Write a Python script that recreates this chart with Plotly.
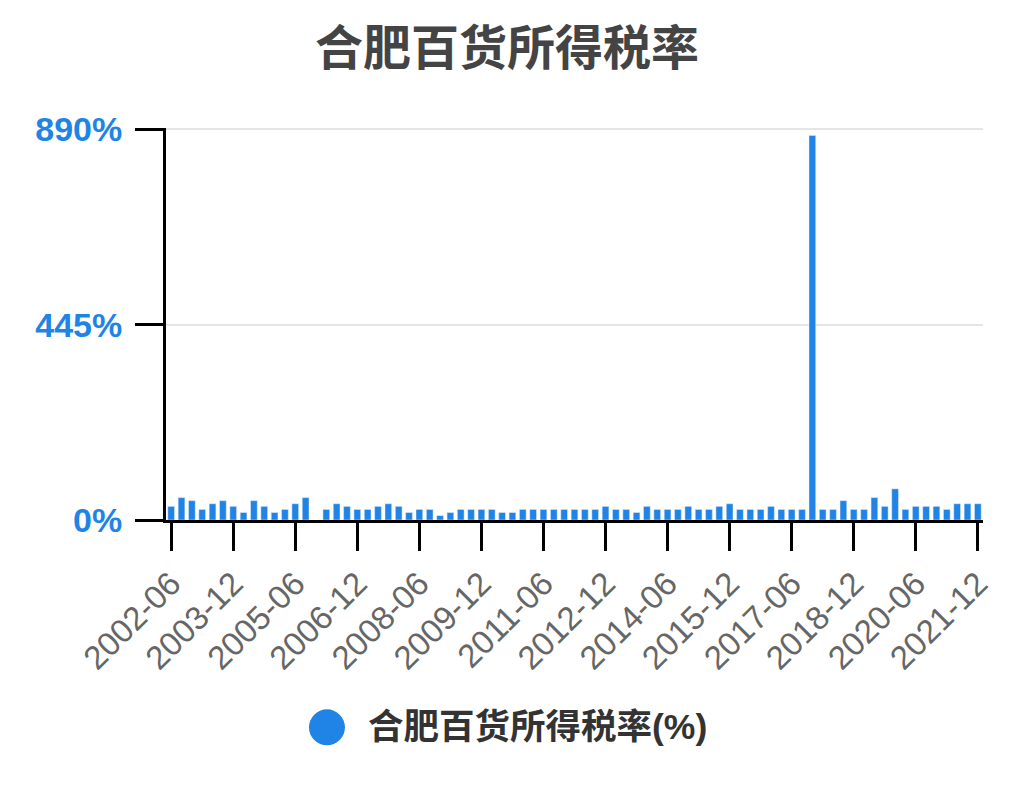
import plotly.graph_objects as go

# quarterly periods 2002-06 .. 2021-12
quarters = [f"{y}-{m}" for y in range(2002, 2022) for m in ("03", "06", "09", "12")]
quarters = quarters[1:]

# income tax rate (%); 2005-12 has no value
tax_rate = [31, 51, 44, 24, 37, 44, 31, 17, 44, 31,
            17, 24, 37, 51, None, 24, 37, 31, 24, 24,
            31, 37, 31, 17, 24, 24, 10, 17, 24, 24,
            24, 24, 17, 17, 24, 24, 24, 24, 24, 24,
            24, 24, 31, 24, 24, 17, 31, 24, 24, 24,
            31, 24, 24, 31, 37, 24, 24, 24, 31, 24,
            24, 24, 876, 24, 24, 44, 24, 24, 51, 31,
            71, 24, 31, 31, 31, 24, 37, 37, 37]

x_ticks = ["2002-06", "2003-12", "2005-06", "2006-12", "2008-06", "2009-12",
           "2011-06", "2012-12", "2014-06", "2015-12", "2017-06", "2018-12",
           "2020-06", "2021-12"]
y_ticks = [0, 445, 890]
y_tick_text = ["0%", "445%", "890%"]
series_name = "合肥百货所得税率(%)"

blue = "#1f84e6"
font_family = "Liberation Sans, Noto Sans CJK SC, sans-serif"

fig = go.Figure()
fig.add_trace(go.Bar(x=quarters, y=tax_rate, marker_color=blue,
                     showlegend=False, name=series_name))

# the page body adds an 8px margin, so the plot margins are offset by 8px
fig.update_layout(
    width=1014, height=810,
    margin=dict(l=158, r=39, t=120, b=298),
    plot_bgcolor="white", paper_bgcolor="white",
    bargap=0.35,
    showlegend=False,
    font=dict(family=font_family),
    title=dict(text="合肥百货所得税率", x=0.492, xanchor="center",
               y=1 - 40 / 810, yanchor="middle",
               font=dict(size=48, color="#444444", weight="bold")),
)

# legend drawn by hand so the round marker can be as big as in the original
fig.add_shape(type="circle", xref="paper", yref="paper",
              xsizemode="pixel", ysizemode="pixel",
              xanchor=0.197, yanchor=-0.529,
              x0=-18, x1=18, y0=-18, y1=18,
              fillcolor=blue, line_width=0)
fig.add_annotation(text=series_name, xref="paper", yref="paper",
                   x=0.245, y=-0.529, xanchor="left", yanchor="middle",
                   showarrow=False,
                   font=dict(size=35.5, color="#333333", weight="bold"))

fig.update_xaxes(type="category", categoryorder="array", categoryarray=quarters,
                 tickmode="array", tickvals=x_ticks, ticktext=x_ticks,
                 tickangle=-45, tickfont=dict(size=33, color="#666666"),
                 ticks="outside", ticklen=28, tickwidth=3, tickcolor="black",
                 showline=True, linewidth=3, linecolor="black",
                 showgrid=False, zeroline=False, automargin=False)
fig.update_yaxes(range=[0, 893], tickmode="array", tickvals=y_ticks,
                 ticktext=y_tick_text,
                 tickfont=dict(size=34, color=blue, weight="bold"),
                 ticks="outside", ticklen=28, tickwidth=3, tickcolor="black",
                 ticklabelstandoff=6,
                 showline=True, linewidth=3, linecolor="black",
                 showgrid=True, gridcolor="#e5e5e5", gridwidth=2,
                 zeroline=False, automargin=False)

fig.write_html("out.html")
